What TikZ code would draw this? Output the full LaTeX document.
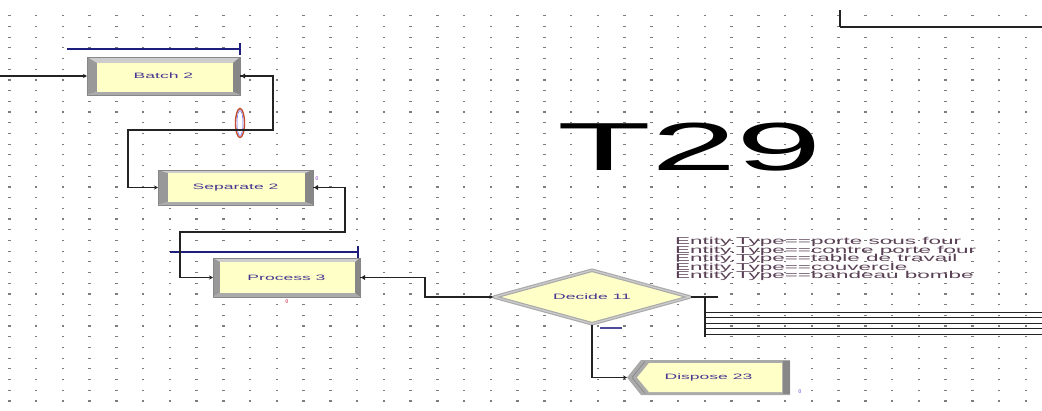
\documentclass[tikz,border=0pt]{standalone}
\usepackage{fontspec}
\usepackage{graphicx}
\setmainfont{Liberation Sans}
\usetikzlibrary{arrows.meta,calc,shapes.geometric,backgrounds}
\definecolor{modyellow}{RGB}{255,255,200}
\definecolor{bevelgray}{RGB}{170,170,170}
\definecolor{beveldark}{RGB}{135,135,135}
\definecolor{bevellight}{RGB}{205,205,205}
\definecolor{conncol}{RGB}{35,35,35}
\definecolor{queueblue}{RGB}{30,30,125}
\definecolor{lblcol}{RGB}{70,55,145}
\definecolor{condcol}{RGB}{90,65,85}
\definecolor{griddot}{RGB}{125,125,125}
\definecolor{ovalred}{RGB}{195,75,45}
\definecolor{cntpink}{RGB}{175,125,215}
\definecolor{cntred}{RGB}{220,105,125}
\definecolor{cntblue}{RGB}{140,140,230}
\newcommand\wide[2][2.25]{\scalebox{#1}[1]{#2}}
\newcommand\drawmodframe[5]{%
 \begin{pgfonlayer}{background}
 \fill[bevellight] (#1.north west) -- (#1.north east) -- ($(#1.north east)+(-#4,#3)$) -- ($(#1.north west)+(#2,#3)$) -- cycle;
 \fill[beveldark!85] (#1.north west) -- ($(#1.north west)+(#2,#3)$) -- ($(#1.south west)+(#2,-#5)$) -- (#1.south west) -- cycle;
 \fill[beveldark] (#1.north east) -- (#1.south east) -- ($(#1.south east)+(-#4,-#5)$) -- ($(#1.north east)+(-#4,#3)$) -- cycle;
 \fill[bevelgray] (#1.south west) -- (#1.south east) -- ($(#1.south east)+(-#4,-#5)$) -- ($(#1.south west)+(#2,-#5)$) -- cycle;
 \fill[modyellow] ($(#1.north west)+(#2,#3)$) rectangle ($(#1.south east)+(-#4,-#5)$);
 \draw[beveldark, line width=0.5pt] (#1.north west) rectangle (#1.south east);
 \end{pgfonlayer}}
\begin{document}
\begin{tikzpicture}[x=1pt,y=-1pt,
  lbl/.style={text=lblcol, font=\fontsize{7.8}{9}\selectfont, inner sep=0pt},
  modnode/.style={rectangle, inner sep=0pt, outer sep=0pt, lbl},
  decnode/.style={diamond, aspect=3.6, draw=bevelgray, double=bevellight, double distance=1.2pt, line width=1.2pt, fill=modyellow, line join=round, inner sep=0pt, lbl},
  conn/.style={draw=conncol, line width=1.2pt},
  entry/.style={-{Stealth[length=4pt,width=4pt]}},
  queue/.style={draw=queueblue, line width=1.1pt},
  condtext/.style={text=condcol, font=\fontsize{10}{10}\selectfont, inner sep=0pt, anchor=base west},
  counter/.style={font=\fontsize{5.5}{5.5}\selectfont\bfseries, inner sep=0pt}]
\useasboundingbox (0,0) rectangle (1042,410);
\begin{pgfonlayer}{background}
\fill[white] (0,0) rectangle (1042,410);
\foreach \i in {0,...,38}{
  \foreach \j in {0,...,36}{
    \fill[griddot] ({8.1+26.75*\i},{15.1+10.7*\j}) rectangle ++(2.4,1.2);
  }}
\end{pgfonlayer}

% modules
\node[modnode, minimum width=153pt, minimum height=38pt] (batch) at (163.5,76) {\wide{Batch 2}};
\drawmodframe{batch}{10}{6}{7}{3}
\node[modnode, minimum width=155pt, minimum height=35pt] (separate) at (235.5,187.5) {\wide{Separate 2}};
\drawmodframe{separate}{10}{3}{8}{3}
\node[modnode, minimum width=147pt, minimum height=39pt] (process) at (286.5,277.5) {\wide{Process 3}};
\drawmodframe{process}{7}{4}{5}{4}
\node[decnode, minimum width=196pt, minimum height=54pt] (decide) at (592,297) {\wide{Decide 11}};
\node[modnode, minimum width=163pt, minimum height=35pt] (dispose) at (708.5,377.5) {\wide{Dispose 23}};
\begin{pgfonlayer}{background}
\fill[bevelgray] (dispose.west) -- ($(dispose.north west)+(14,0)$) -- (dispose.north east) -- (dispose.south east) -- ($(dispose.south west)+(14,0)$) -- cycle;
\draw[beveldark, line width=0.6pt] ($(dispose.west)+(5,0)$) -- ($(dispose.north west)+(18,1.5)$);
\draw[beveldark, line width=0.6pt] ($(dispose.west)+(5,0)$) -- ($(dispose.south west)+(18,-1.5)$);
\fill[beveldark] ($(dispose.north east)+(-7,1)$) rectangle ($(dispose.south east)+(0,-1)$);
\fill[modyellow] ($(dispose.west)+(10,0)$) -- ($(dispose.north west)+(22,3)$) -- ($(dispose.north east)+(-8,3)$) -- ($(dispose.south east)+(-8,-3)$) -- ($(dispose.south west)+(22,-3)$) -- cycle;
\end{pgfonlayer}

% queue lines
\coordinate (q1a) at (67,49); \coordinate (q1b) at (240,49);
\draw[queue] (q1a) -- (q1b);
\draw[queueblue, line width=1.8pt] ($(q1b)+(0,-6)$) -- ($(q1b)+(0,6)$);
\coordinate (q2a) at (170,252); \coordinate (q2b) at (358,252);
\draw[queue] (q2a) -- (q2b);
\draw[queueblue, line width=1.8pt] ($(q2b)+(0,-6)$) -- ($(q2b)+(0,6)$);

% batch oval
\draw[ovalred, line width=1.4pt] (240,123) ellipse [x radius=4.5, y radius=14.5];
\draw[blue!60, line width=0.5pt] (240,123) ellipse [x radius=3, y radius=12.5];

% connectors
\coordinate (inA) at (0,76);
\draw[conn, entry] (inA) -- (batch.west);
\draw[conn, entry] (batch.east) -- (273,76) -- (273,130) -- (128,130) |- (separate.west);
\draw[conn, entry] (separate.east) -- (345,187.5) -- (345,232) -- (180,232) |- (process.west);
\draw[conn, entry] (process.east) -- (425,277.5) |- (decide.west);
\draw[conn, entry] (decide.south) |- (dispose.west);
\coordinate (decR) at (718,297);
\draw[conn] (decide.east) -- (decR);
\coordinate (busT) at (705,297); \coordinate (busB) at (705,337);
\draw[conn, line width=1.8pt] (busT) -- (busB);
\foreach \k/\yy in {1/312,2/317.5,3/323,4/328.5,5/334}{
  \coordinate (o\k) at (1042,\yy);
  \draw[conn, line width=0.9pt] (busT |- o\k) -- (o\k);
}
\coordinate (trA) at (840,10); \coordinate (trB) at (840,27); \coordinate (trC) at (1042,27);
\draw[conn, line width=2pt] (trA) -- (trB);
\draw[conn] (trB) -- (trC);

% exit markers
\foreach \m in {batch,separate,process}{
  \fill[conncol] ($(\m.east)+(1,0)$) -- ++(4,-2.5) -- ++(0,5) -- cycle;
}

% counters
\node[counter, text=cntpink] (sepcnt) at (317,179) {0};
\node[counter, text=cntred] (proccnt) at (287,302) {0};
\node[counter, text=cntblue] (dispcnt) at (800,392) {0};
\node[inner sep=0pt, fill=queueblue!80, minimum width=22pt, minimum height=2pt] (deccnt) at (611,328) {};

% title
\node[inner sep=0pt, font=\fontsize{68}{68}\selectfont] (title) at (690,147.5) {\wide[2.26]{T29}};

% conditions
\node[condtext] (c1) at (675,244.5) {\wide{Entity.Type==porte sous four}};
\node[condtext] (c2) at (675,253) {\wide{Entity.Type==contre porte four}};
\node[condtext] (c3) at (675,261.5) {\wide{Entity.Type==table de travail}};
\node[condtext] (c4) at (675,270) {\wide{Entity.Type==couvercle}};
\node[condtext] (c5) at (675,278.5) {\wide{Entity.Type==bandeau bombe}};
\end{tikzpicture}
\end{document}
